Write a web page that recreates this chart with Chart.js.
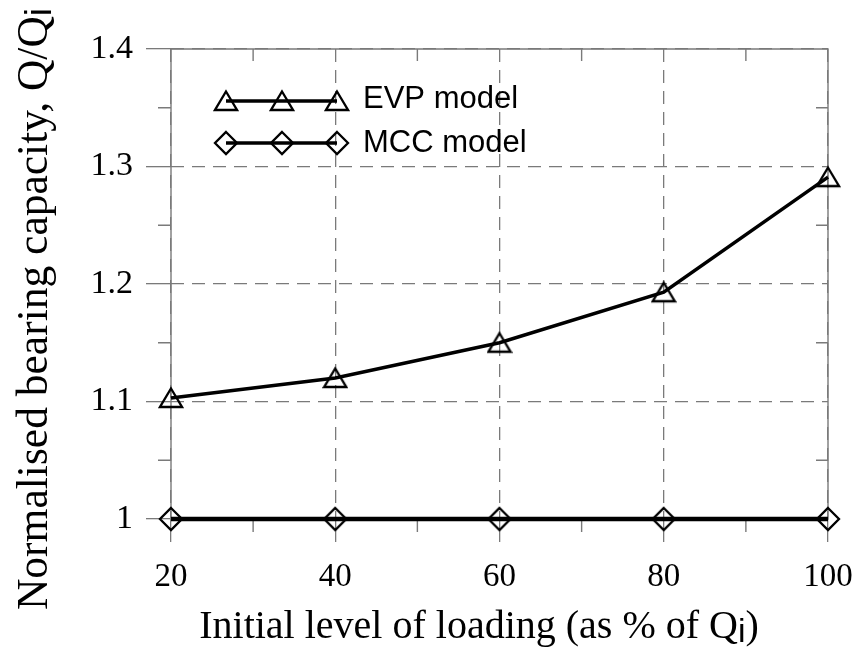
<!DOCTYPE html>
<html>
<head>
<meta charset="utf-8">
<script src="https://cdn.jsdelivr.net/npm/chart.js@4.4.1/dist/chart.umd.min.js"></script>
<style>
  html, body { margin: 0; padding: 0; background: #fff; }
  .chart-wrap { width: 857px; height: 648px; position: relative; }
</style>
</head>
<body>
<div class="chart-wrap">
  <canvas id="chart" aria-label="Normalised bearing capacity vs initial level of loading" role="img"></canvas>
</div>
<script>
// loading level, % of Qi
const loadLevels = [20, 40, 60, 80, 100];
// normalised bearing capacity Q/Qi
const evpValues = [1.103, 1.12, 1.15, 1.193, 1.291];
const mccValues = [1, 1, 1, 1, 1];

const xTicks = [20, 40, 60, 80, 100];
const yTicks = [1, 1.1, 1.2, 1.3, 1.4];
const yTickLabels = ['1', '1.1', '1.2', '1.3', '1.4'];
const xMinorTicks = [30, 50, 70, 90];
const yMinorTicks = [1.05, 1.15, 1.25, 1.35];

const seriesNames = ['EVP model', 'MCC model'];

const SERIF = '"Liberation Serif", "Times New Roman", serif';
const SANS = '"Liberation Sans", Arial, sans-serif';
const GRID = '#7a7a7a';

// open triangle marker, box centred on the point
function makeTriangle() {
  const c = document.createElement('canvas');
  c.width = 26; c.height = 24;
  const g = c.getContext('2d');
  g.strokeStyle = '#000';
  g.lineWidth = 2.3;
  g.beginPath();
  g.moveTo(13, 2.5);
  g.lineTo(24, 21);
  g.lineTo(2, 21);
  g.closePath();
  g.stroke();
  return c;
}

// open diamond marker
function makeDiamond() {
  const c = document.createElement('canvas');
  c.width = 26; c.height = 26;
  const g = c.getContext('2d');
  g.strokeStyle = '#000';
  g.lineWidth = 2.3;
  g.beginPath();
  g.moveTo(13, 2);
  g.lineTo(24, 13);
  g.lineTo(13, 24);
  g.lineTo(2, 13);
  g.closePath();
  g.stroke();
  return c;
}

const triMarker = makeTriangle();
const diaMarker = makeDiamond();

// text with a lowered "i" for Q subscript
function drawRichText(ctx, parts, size) {
  let total = 0;
  parts.forEach(p => {
    ctx.font = (p.sub ? size * 0.85 : size) + 'px ' + (p.sub ? SANS : SERIF);
    p.w = ctx.measureText(p.t).width;
    total += p.w;
  });
  let x = -total / 2;
  parts.forEach(p => {
    ctx.font = (p.sub ? size * 0.85 : size) + 'px ' + (p.sub ? SANS : SERIF);
    ctx.fillText(p.t, x, p.sub ? 4 : 0);
    x += p.w;
  });
}

const framePlugin = {
  id: 'frame',
  beforeDatasetsDraw(chart) {
    const { ctx, chartArea: a, scales: { x, y } } = chart;
    ctx.save();
    ctx.strokeStyle = GRID;
    ctx.lineWidth = 1.4;
    ctx.beginPath();
    ctx.rect(a.left, a.top, a.right - a.left, a.bottom - a.top);
    ctx.stroke();
    ctx.beginPath();
    xMinorTicks.forEach(v => {
      const px = x.getPixelForValue(v);
      ctx.moveTo(px, a.bottom); ctx.lineTo(px, a.bottom + 13);
      ctx.moveTo(px, a.top); ctx.lineTo(px, a.top + 12);
    });
    yMinorTicks.forEach(v => {
      const py = y.getPixelForValue(v);
      ctx.moveTo(a.left - 13, py); ctx.lineTo(a.left, py);
      ctx.moveTo(a.right - 12, py); ctx.lineTo(a.right, py);
    });
    ctx.stroke();
    ctx.restore();
  },
  afterDraw(chart) {
    const { ctx } = chart;
    ctx.save();
    ctx.fillStyle = '#000';
    ctx.textBaseline = 'alphabetic';
    ctx.textAlign = 'left';

    // x axis title
    ctx.save();
    ctx.translate(479, 638);
    drawRichText(ctx, [{ t: 'Initial level of loading (as % of Q' }, { t: 'i', sub: true }, { t: ')' }], 40);
    ctx.restore();

    // y axis title
    ctx.save();
    ctx.translate(47, 309);
    ctx.rotate(-Math.PI / 2);
    drawRichText(ctx, [{ t: 'Normalised bearing capacity, Q/Q' }, { t: 'i', sub: true }], 43.5);
    ctx.restore();

    // legend
    const rows = [
      { name: seriesNames[0], marker: triMarker, y: 101, base: 108 },
      { name: seriesNames[1], marker: diaMarker, y: 143, base: 152 }
    ];
    const mx = [226, 282, 337];
    rows.forEach(r => {
      ctx.strokeStyle = '#000';
      ctx.lineWidth = 3.5;
      ctx.beginPath();
      ctx.moveTo(mx[0], r.y);
      ctx.lineTo(mx[2], r.y);
      ctx.stroke();
      mx.forEach(px => ctx.drawImage(r.marker, px - r.marker.width / 2, r.y - r.marker.height / 2));
      ctx.font = '31px ' + SANS;
      ctx.fillText(r.name, 363, r.base);
    });
    ctx.restore();
  }
};

new Chart(document.getElementById('chart'), {
  type: 'line',
  data: {
    datasets: [
      {
        label: seriesNames[0],
        data: loadLevels.map((v, i) => ({ x: v, y: evpValues[i] })),
        borderColor: '#000',
        borderWidth: 3.5,
        pointStyle: triMarker,
        clip: false,
        tension: 0
      },
      {
        label: seriesNames[1],
        data: loadLevels.map((v, i) => ({ x: v, y: mccValues[i] })),
        borderColor: '#000',
        borderWidth: 4.5,
        pointStyle: diaMarker,
        clip: false,
        tension: 0
      }
    ]
  },
  options: {
    responsive: true,
    maintainAspectRatio: false,
    animation: false,
    layout: { padding: { top: 49, right: 29, left: 0, bottom: 0 } },
    plugins: { legend: { display: false }, tooltip: { enabled: false } },
    scales: {
      x: {
        type: 'linear',
        min: 20,
        max: 100,
        afterBuildTicks: s => { s.ticks = xTicks.map(v => ({ value: v })); },
        afterFit: s => { s.height = 129; },
        grid: { color: GRID, lineWidth: 1.3, tickLength: 23, tickColor: GRID, tickWidth: 1.3 },
        border: { display: false, dash: [13, 8] },
        // label drop comes from lineHeight so the tick padding stays small
        ticks: { color: '#000', padding: 3, font: { family: SERIF, size: 33, lineHeight: 1.95 } }
      },
      y: {
        type: 'linear',
        min: 1,
        max: 1.4,
        afterBuildTicks: s => { s.ticks = yTicks.map(v => ({ value: v })); },
        afterFit: s => { s.width = 171; },
        grid: { color: GRID, lineWidth: 1.3, tickLength: 25, tickColor: GRID, tickWidth: 1.3 },
        border: { display: false, dash: [13, 8] },
        ticks: {
          color: '#000',
          padding: 13,
          font: { family: SERIF, size: 34 },
          callback: (v, i) => yTickLabels[i]
        }
      }
    }
  },
  plugins: [framePlugin]
});
</script>
</body>
</html>
